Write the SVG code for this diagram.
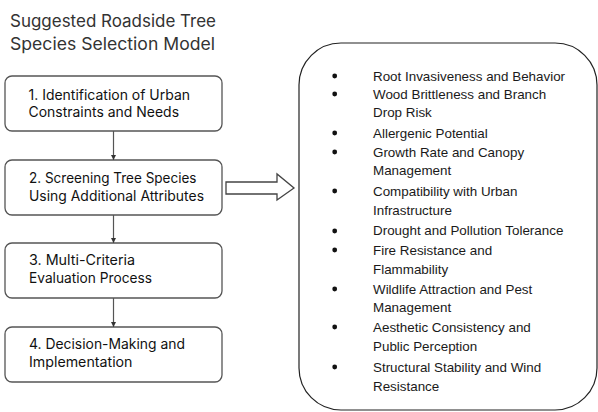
<svg xmlns="http://www.w3.org/2000/svg" width="598" height="412" viewBox="0 0 598 412">
<defs>
<style>
.title{font-family:Inter,"Open Sans","Liberation Sans",sans-serif;font-size:16.8px;fill:#333}
.step rect{fill:#fff;stroke:#555;stroke-width:1.3}
.step text{font-family:Inter,"Open Sans","Liberation Sans",sans-serif;font-size:14px;font-weight:400;fill:#111}
.conn line{stroke:#555;stroke-width:1.2}
.list text{font-family:"Liberation Sans",Arial,sans-serif;font-size:13.4px;fill:#1a1a1a}
.list circle{fill:#111}
</style>
<marker id="ah" viewBox="0 0 10 10" refX="10" refY="5" markerWidth="5" markerHeight="5" markerUnits="userSpaceOnUse" orient="auto">
<path d="M0,0 L10,5 L0,10 z" fill="#333"/>
</marker>
</defs>
<rect width="598" height="412" fill="#fff"/>
<g id="title">
<text class="title" x="10" y="27" textLength="206" lengthAdjust="spacingAndGlyphs">Suggested Roadside Tree</text>
<text class="title" x="10" y="50" textLength="205" lengthAdjust="spacingAndGlyphs">Species Selection Model</text>
</g>
<g id="step1" class="step">
<rect x="5" y="76" width="217" height="55" rx="7"/>
<text x="28.5" y="100" textLength="161.5" lengthAdjust="spacingAndGlyphs">1. Identification of Urban</text>
<text x="28.5" y="117" textLength="150.5" lengthAdjust="spacingAndGlyphs">Constraints and Needs</text>
</g>
<g id="step2" class="step">
<rect x="5" y="160" width="217" height="55" rx="7"/>
<text x="29" y="183" textLength="167.5" lengthAdjust="spacingAndGlyphs">2. Screening Tree Species</text>
<text x="29" y="200.5" textLength="175" lengthAdjust="spacingAndGlyphs">Using Additional Attributes</text>
</g>
<g id="step3" class="step">
<rect x="5" y="243" width="217" height="55" rx="7"/>
<text x="29" y="265" textLength="106" lengthAdjust="spacingAndGlyphs">3. Multi-Criteria</text>
<text x="29" y="282.5" textLength="123" lengthAdjust="spacingAndGlyphs">Evaluation Process</text>
</g>
<g id="step4" class="step">
<rect x="5" y="327" width="217" height="55" rx="7"/>
<text x="29" y="349" textLength="156" lengthAdjust="spacingAndGlyphs">4. Decision-Making and</text>
<text x="29" y="366.5" textLength="103.5" lengthAdjust="spacingAndGlyphs">Implementation</text>
</g>
<g id="connectors" class="conn">
<line x1="113.5" y1="131" x2="113.5" y2="160" marker-end="url(#ah)"/>
<line x1="113.5" y1="215" x2="113.5" y2="243" marker-end="url(#ah)"/>
<line x1="113.5" y1="298" x2="113.5" y2="327" marker-end="url(#ah)"/>
<polygon points="226,182 277,182 277,174 294,188 277,200 277,194 226,194" fill="#fff" stroke="#444" stroke-width="1.3" stroke-linejoin="miter"/>
</g>
<g id="attributes" class="list">
<rect x="299" y="43" width="298" height="367" rx="42" fill="#fff" stroke="#222" stroke-width="1.2"/>
<circle cx="334.7" cy="76" r="2.4"/>
<text x="373" y="81">Root Invasiveness and Behavior</text>
<circle cx="334.7" cy="94" r="2.4"/>
<text x="373" y="99">Wood Brittleness and Branch</text>
<text x="373" y="117">Drop Risk</text>
<circle cx="334.7" cy="133" r="2.4"/>
<text x="373" y="138">Allergenic Potential</text>
<circle cx="334.7" cy="152" r="2.4"/>
<text x="373" y="157">Growth Rate and Canopy</text>
<text x="373" y="175">Management</text>
<circle cx="334.7" cy="191" r="2.4"/>
<text x="373" y="196">Compatibility with Urban</text>
<text x="373" y="215">Infrastructure</text>
<circle cx="334.7" cy="231" r="2.4"/>
<text x="373" y="235">Drought and Pollution Tolerance</text>
<circle cx="334.7" cy="250" r="2.4"/>
<text x="373" y="255">Fire Resistance and</text>
<text x="373" y="274">Flammability</text>
<circle cx="334.7" cy="289" r="2.4"/>
<text x="373" y="294">Wildlife Attraction and Pest</text>
<text x="373" y="312">Management</text>
<circle cx="334.7" cy="327" r="2.4"/>
<text x="373" y="332">Aesthetic Consistency and</text>
<text x="373" y="351">Public Perception</text>
<circle cx="334.7" cy="367" r="2.4"/>
<text x="373" y="372">Structural Stability and Wind</text>
<text x="373" y="391">Resistance</text>
</g>
</svg>
